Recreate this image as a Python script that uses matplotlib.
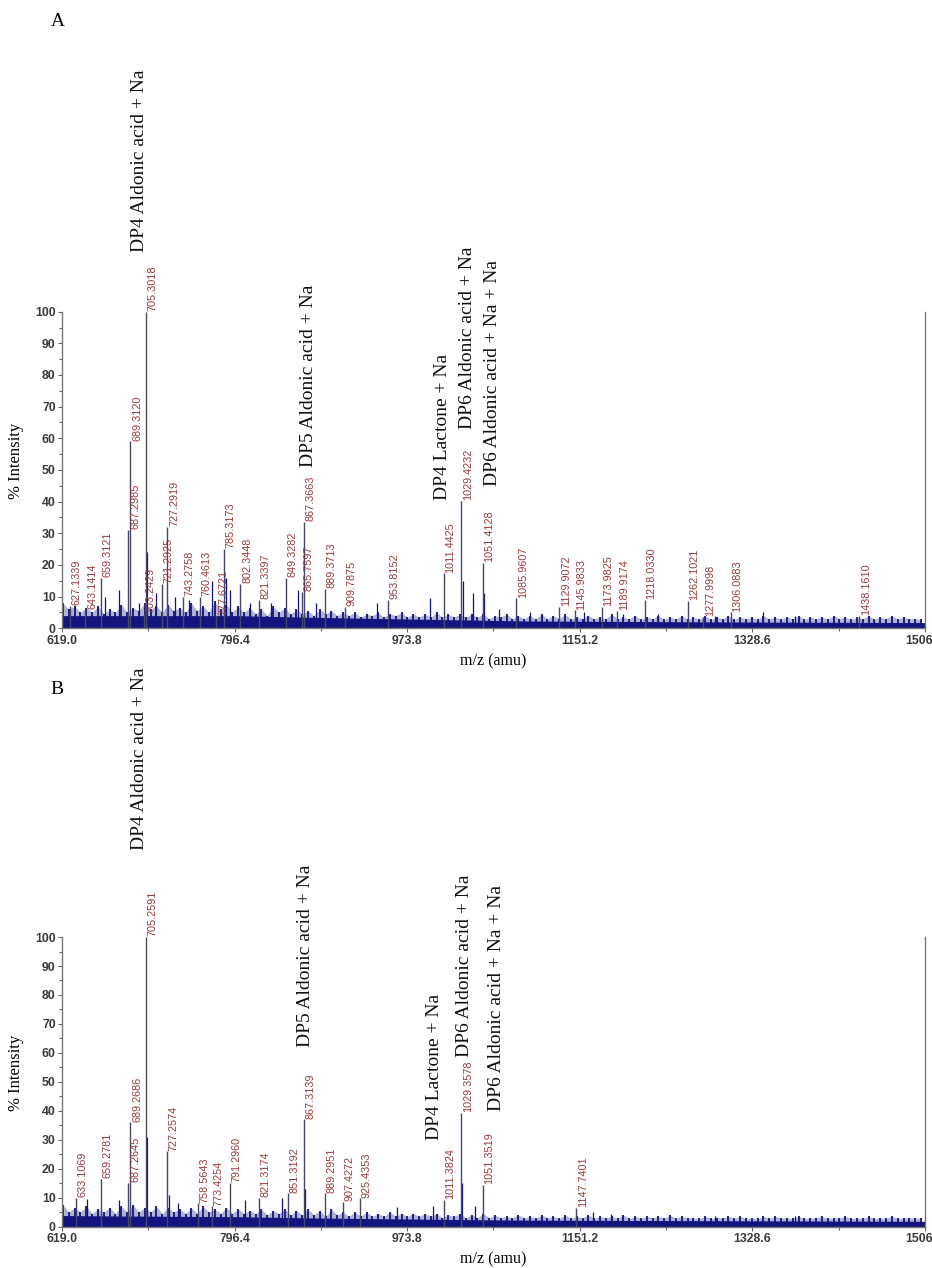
import matplotlib
matplotlib.use("Agg")
import matplotlib.pyplot as plt
import matplotlib.transforms as mtransforms
import numpy as np

# ---- data (m/z, % intensity) ----
x_ticks = [619.0, 796.4, 973.8, 1151.2, 1328.6, 1506]
x_tick_labels = ["619.0", "796.4", "973.8", "1151.2", "1328.6", "1506"]

noise_mz = np.arange(620, 1506, 6)

noise_a = [
    8, 6, 7, 5, 6.5, 5, 7, 4.5, 6, 5,
    7.5, 5, 6.5, 5.5, 8, 6, 7, 5, 7.5, 5.5,
    6.5, 5, 8, 5.5, 7, 5, 8.5, 6, 7.5, 5,
    7, 5, 6.5, 4.5, 6, 4, 7, 5, 6.5, 4.5,
    6, 4.5, 5.5, 4, 6, 4.5, 5.5, 4, 5, 4,
    5, 3.5, 4.5, 4, 5, 3.5, 4.5, 4, 5, 3.5,
    4.5, 3.5, 4.5, 3.5, 5, 3.5, 4.5, 3.5, 4.5, 3.5,
    4.5, 3.5, 4.5, 3, 4, 3.5, 4.5, 3, 4, 3,
    4, 3, 4.5, 3, 4, 3, 4.5, 3, 3.5, 3,
    4, 3, 3.5, 3, 4.5, 3, 3.5, 3, 4, 2.8,
    3.5, 3, 4, 2.8, 3.5, 3, 4, 2.8, 3.5, 2.8,
    4, 2.8, 3.5, 3, 4, 2.8, 3.5, 3, 3.5, 2.8,
    4, 3, 3.5, 2.8, 3.5, 3, 4, 2.8, 3.5, 3,
    3.5, 2.8, 4, 3, 3.5, 2.8, 3.5, 3, 4, 2.8,
    3.5, 3, 4, 2.8, 3.5, 3, 3, 2.8,
]
noise_b = [
    7.5, 5, 6.5, 5, 7, 4.5, 6, 5, 6.5, 4.5,
    7, 5, 7.5, 5, 6.5, 5, 7, 4.5, 6.5, 5,
    6, 4.5, 6.5, 4.5, 7, 5, 6, 4.5, 6.5, 4.5,
    6, 4.5, 5.5, 4.5, 6, 4, 5.5, 4.5, 6, 4,
    5.5, 4, 6, 4, 5.5, 3.5, 6, 4, 5, 3.5,
    5, 3.5, 5, 3.5, 4.5, 3.5, 5, 3.5, 4.5, 3.5,
    4.5, 3.5, 4.5, 3.5, 4.5, 3, 4, 3.5, 4.5, 3,
    4, 3, 4.5, 3, 4, 3, 3.5, 3, 4, 3,
    3.5, 2.8, 4, 3, 3.5, 2.8, 4, 2.8, 3.5, 3,
    4, 2.8, 3.5, 3, 3.5, 2.8, 4, 2.8, 3.5, 2.8,
    3.5, 3, 3.5, 2.8, 4, 2.8, 3.5, 3, 3, 2.8,
    3.5, 2.8, 3, 3, 3.5, 2.8, 3.5, 2.8, 3, 2.8,
    3.5, 2.8, 3.5, 3, 3, 2.8, 3.5, 2.8, 3, 3,
    3.5, 2.8, 3, 3, 3.5, 2.8, 3, 2.8, 3.5, 2.8,
    3, 2.8, 3.5, 2.8, 3, 3, 3, 2.8,
]

# solid part of the baseline band
floor_mz = [619, 700, 800, 870, 1000, 1100, 1300, 1506]
floor_a = [4.0, 4.0, 4.0, 3.5, 2.8, 2.3, 2.0, 1.8]
floor_b = [3.8, 3.6, 3.4, 3.0, 2.5, 2.2, 2.0, 1.8]

minor_mz_a = [663, 678, 698, 706.3, 716, 735, 750, 773.5, 788, 792, 812, 834,
              862, 880, 943, 997, 1031, 1041, 1053, 1068, 1100, 1156, 1196,
              1232, 1290, 1340, 1372]
minor_int_a = [10, 12, 8, 24, 11, 10, 9, 15, 16, 12, 8, 8,
               12, 8, 8, 9.5, 15, 11, 11, 6, 5, 5, 4.5,
               4.5, 4, 5, 4]

minor_mz_b = [644.6, 677.7, 706.3, 728.5, 738, 806.6, 845, 868.5, 963, 1000,
              1030.5, 1043, 1165, 1183, 1290, 1372]
minor_int_b = [9.5, 9, 31, 11, 8, 9, 10, 13, 6.8, 7,
               15, 7, 5, 4.5, 3.5, 3.5]

labels_a = ["627.1339", "643.1414", "659.3121", "687.2985", "689.3120",
            "703.2429", "705.3018", "721.2925", "727.2919", "743.2758",
            "760.4613", "777.6721", "785.3173", "802.3448", "821.3397",
            "849.3282", "865.7597", "867.3663", "889.3713", "909.7875",
            "953.8152", "1011.4425", "1029.4232", "1051.4128", "1085.9607",
            "1129.9072", "1145.9833", "1173.9825", "1189.9174", "1218.0330",
            "1262.1021", "1277.9998", "1306.0883", "1438.1610"]
ints_a = [7, 6, 16, 31, 59,
          4.5, 100, 14, 32, 10,
          10, 4, 25, 14, 9,
          16, 11.5, 33.7, 12.5, 6.8,
          9, 17.4, 40.3, 20.7, 9.5,
          6.7, 5.7, 6.7, 5.5, 8.9,
          8.6, 3.6, 5, 4]

labels_b = ["633.1069", "659.2781", "687.2645", "689.2686", "705.2591",
            "727.2574", "758.5643", "773.4254", "791.2960", "821.3174",
            "851.3192", "867.3139", "889.2951", "907.4272", "925.4353",
            "1011.3824", "1029.3578", "1051.3519", "1147.7401"]
ints_b = [9.8, 16.5, 15, 36, 100,
          26, 8, 7, 15, 10,
          11.5, 37, 11.5, 8.6, 9.7,
          9.2, 39.3, 14.3, 6.4]

notes = ["DP4 Aldonic acid + Na", "DP5 Aldonic acid + Na", "DP4 Lactone + Na",
         "DP6 Aldonic acid + Na", "DP6 Aldonic acid + Na + Na"]

SERIF = "Liberation Serif"
SANS = "Liberation Sans"
NAVY = "#14147f"
HAZE = "#8f93bd"
PEAK = "#45456e"
RED = "#9a3a3a"


def draw_panel(ax, noise, floor, minor_mz, minor_int, labels, ints, note_xy):
    # baseline noise: light haze, dense hairs, solid band
    ax.fill_between(noise_mz, 0, noise, color=HAZE, lw=0, alpha=0.7)
    ax.vlines(noise_mz, 0, noise, color=NAVY, lw=1.3)
    ax.fill_between(floor_mz, 0, floor, color=NAVY, lw=0)
    ax.vlines(minor_mz, 0, minor_int, color=NAVY, lw=0.9)
    peak_mz = [float(s) for s in labels]
    ax.vlines(peak_mz, 0, ints, color=PEAK, lw=1.0)
    for s, mz, h in zip(labels, peak_mz, ints):
        ax.annotate(s, (mz, h), xytext=(4.8, 0.5), textcoords="offset points",
                    rotation=90, ha="center", va="bottom", fontsize=7.8,
                    family=SANS, color=RED, annotation_clip=False)
    for txt, (x, y) in zip(notes, note_xy):
        ax.text(x, y, txt, rotation=90, ha="center", va="bottom",
                fontsize=14, family=SERIF, color="#111111", clip_on=False)

    ax.set_xlim(619, 1506)
    ax.set_ylim(0, 100)
    ax.spines["top"].set_visible(False)
    for side in ("left", "bottom", "right"):
        ax.spines[side].set_color("#777777")
        ax.spines[side].set_linewidth(1.0)

    ax.set_xticks(x_ticks)
    ax.set_xticklabels(x_tick_labels)
    ax.set_xticks([(a + b) / 2 for a, b in zip(x_ticks[:-1], x_ticks[1:])], minor=True)
    ax.set_yticks(range(0, 101, 10))
    ax.set_yticks(range(5, 100, 10), minor=True)
    ax.tick_params(axis="both", which="major", length=3, width=0.8, color="#666666",
                   labelsize=8.8, labelcolor="#3a3a3a", pad=1.5)
    ax.tick_params(axis="both", which="minor", length=2, width=0.8, color="#666666")
    ax.tick_params(axis="y", right=False)
    for lab in ax.get_xticklabels() + ax.get_yticklabels():
        lab.set_family(SANS)
        lab.set_fontweight("bold")
    last = ax.get_xticklabels()[-1]
    last.set_horizontalalignment("right")
    last.set_transform(last.get_transform() + mtransforms.ScaledTranslation(
        6 / 72, 0, ax.figure.dpi_scale_trans))

    ax.set_ylabel("% Intensity", family=SERIF, fontsize=12)
    ax.set_xlabel("m/z (amu)", family=SERIF, fontsize=11.5)
    ax.yaxis.set_label_coords(-0.044, 0.53)


fig = plt.figure(figsize=(9.32, 12.68), dpi=100)
ax_a = fig.add_axes([0.0665, 0.5045, 0.926, 0.2497])
ax_b = fig.add_axes([0.0665, 0.0327, 0.926, 0.2283])

draw_panel(ax_a, noise_a, floor_a, minor_mz_a, minor_int_a, labels_a, ints_a,
           [(699, 119), (872, 51), (1010.6, 40.4), (1036, 63), (1061, 45)])
draw_panel(ax_b, noise_b, floor_b, minor_mz_b, minor_int_b, labels_b, ints_b,
           [(699, 130), (869, 62), (1002, 30), (1033, 58.5), (1066, 40)])
ax_a.xaxis.set_label_coords(0.5, -0.078)
ax_b.xaxis.set_label_coords(0.5, -0.085)

fig.text(0.054, 0.983, "A", family=SERIF, fontsize=14, va="center")
fig.text(0.054, 0.456, "B", family=SERIF, fontsize=14, va="center")

fig.savefig("out.png", dpi=100)
